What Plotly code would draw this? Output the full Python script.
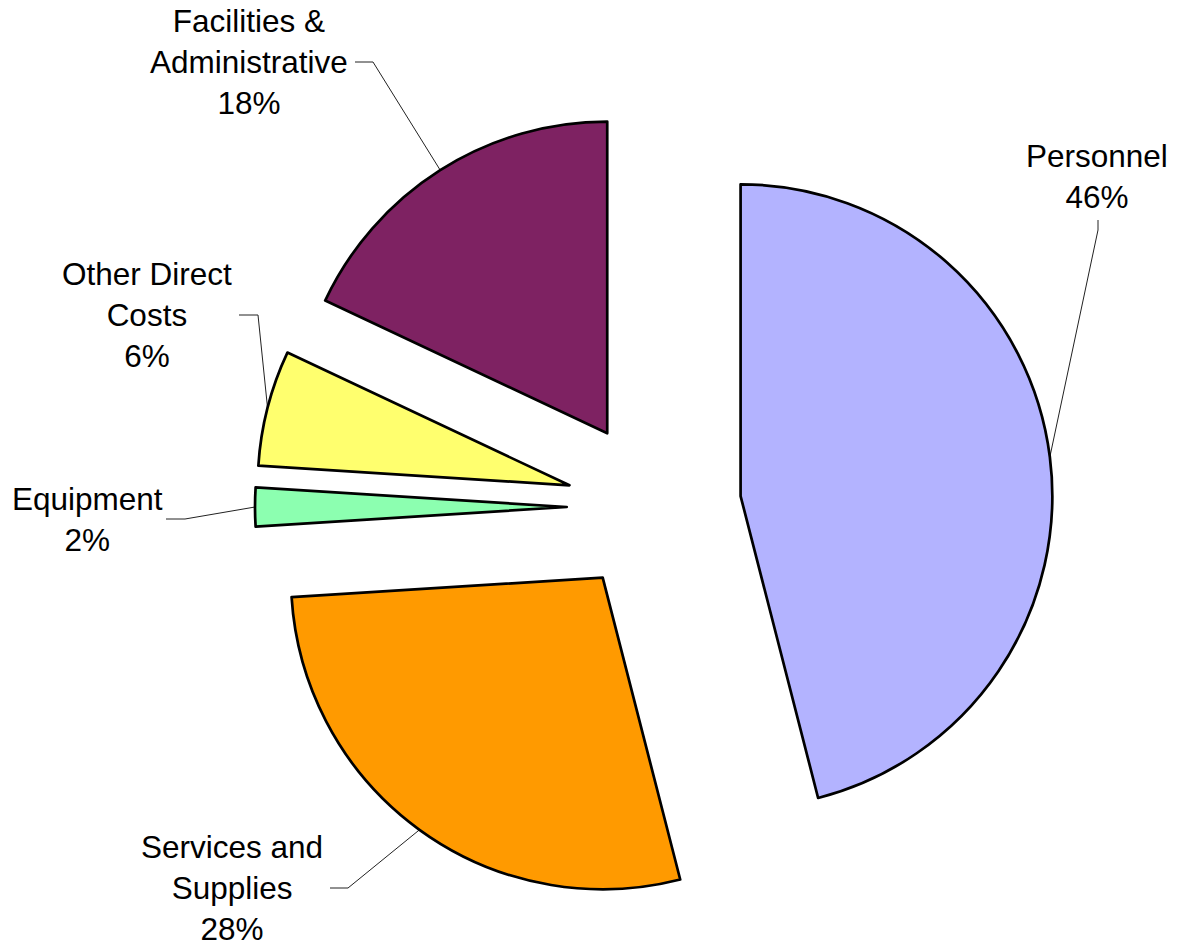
import math
import plotly.graph_objects as go

# ---- data ----
categories = ["Personnel", "Services and Supplies", "Equipment", "Other Direct Costs", "Facilities & Administrative"]
label_text = ["Personnel", "Services and<br>Supplies", "Equipment", "Other Direct<br>Costs", "Facilities &<br>Administrative"]
values = [46, 28, 2, 6, 18]

# ---- style / layout ----
W, H = 1178, 948
colors = ["#B3B3FF", "#FF9A00", "#8CFFB0", "#FFFF6E", "#7E2262"]
PULL = 0.28
DOM_X = [255 / W, 1053 / W]
DOM_Y = [42 / H, 840 / H]
FONT = "Liberation Sans, Arial, sans-serif"
FS = 31.5

# label anchor positions (pixels) and leader elbow points (pixels)
label_pos = [(1097, 176), (232, 888), (87, 519), (147, 315), (249, 62)]
elbow_start = [(1098, 220), (330, 888), (166, 519), (239, 315), (355, 62)]
elbow_mid = [(1098, 230), (348, 888), (185, 519), (258, 315), (373, 62)]

fig = go.Figure()

fig.add_trace(go.Pie(
    labels=categories,
    values=values,
    sort=False,
    direction="clockwise",
    rotation=0,
    pull=[PULL] * len(values),
    marker=dict(colors=colors, line=dict(color="black", width=2.7)),
    textinfo="none",
    hoverinfo="label+percent",
    showlegend=False,
    domain=dict(x=DOM_X, y=DOM_Y),
))

# pie geometry in pixels (how plotly sizes a pulled pie)
box_w = W * (DOM_X[1] - DOM_X[0])
box_h = H * (DOM_Y[1] - DOM_Y[0])
r = min(box_w, box_h) / 2 / (1 + PULL)
cx = W * (DOM_X[0] + DOM_X[1]) / 2
cy = H * (1 - DOM_Y[0]) - box_h / 2

total = sum(values)
cum = 0
for i, v in enumerate(values):
    mid = (cum + v / 2) / total * 2 * math.pi
    cum += v
    ex = cx + r * (1 + PULL) * math.sin(mid)
    ey = cy - r * (1 + PULL) * math.cos(mid)
    xs = [elbow_start[i][0], elbow_mid[i][0], ex]
    ys = [elbow_start[i][1], elbow_mid[i][1], ey]
    fig.add_trace(go.Scatter(
        x=xs, y=ys, mode="lines",
        line=dict(color="#222222", width=1),
        hoverinfo="skip", showlegend=False, cliponaxis=False,
    ))
    pct = round(v / total * 100)
    fig.add_annotation(
        x=label_pos[i][0], y=label_pos[i][1], xref="x", yref="y",
        text=f"{label_text[i]}<br>{pct}%", showarrow=False,
        font=dict(family=FONT, size=FS, color="black"),
        align="center", xanchor="center", yanchor="middle",
    )

fig.update_layout(
    width=W, height=H,
    margin=dict(l=0, r=0, t=0, b=0),
    paper_bgcolor="white", plot_bgcolor="rgba(0,0,0,0)",
    xaxis=dict(range=[0, W], visible=False, fixedrange=True),
    yaxis=dict(range=[H, 0], visible=False, fixedrange=True),
    font=dict(family=FONT),
)

fig.write_html(
    "out.html",
    config={"displayModeBar": False},
    post_script="document.body.style.margin='0';document.body.style.overflow='hidden';",
)
